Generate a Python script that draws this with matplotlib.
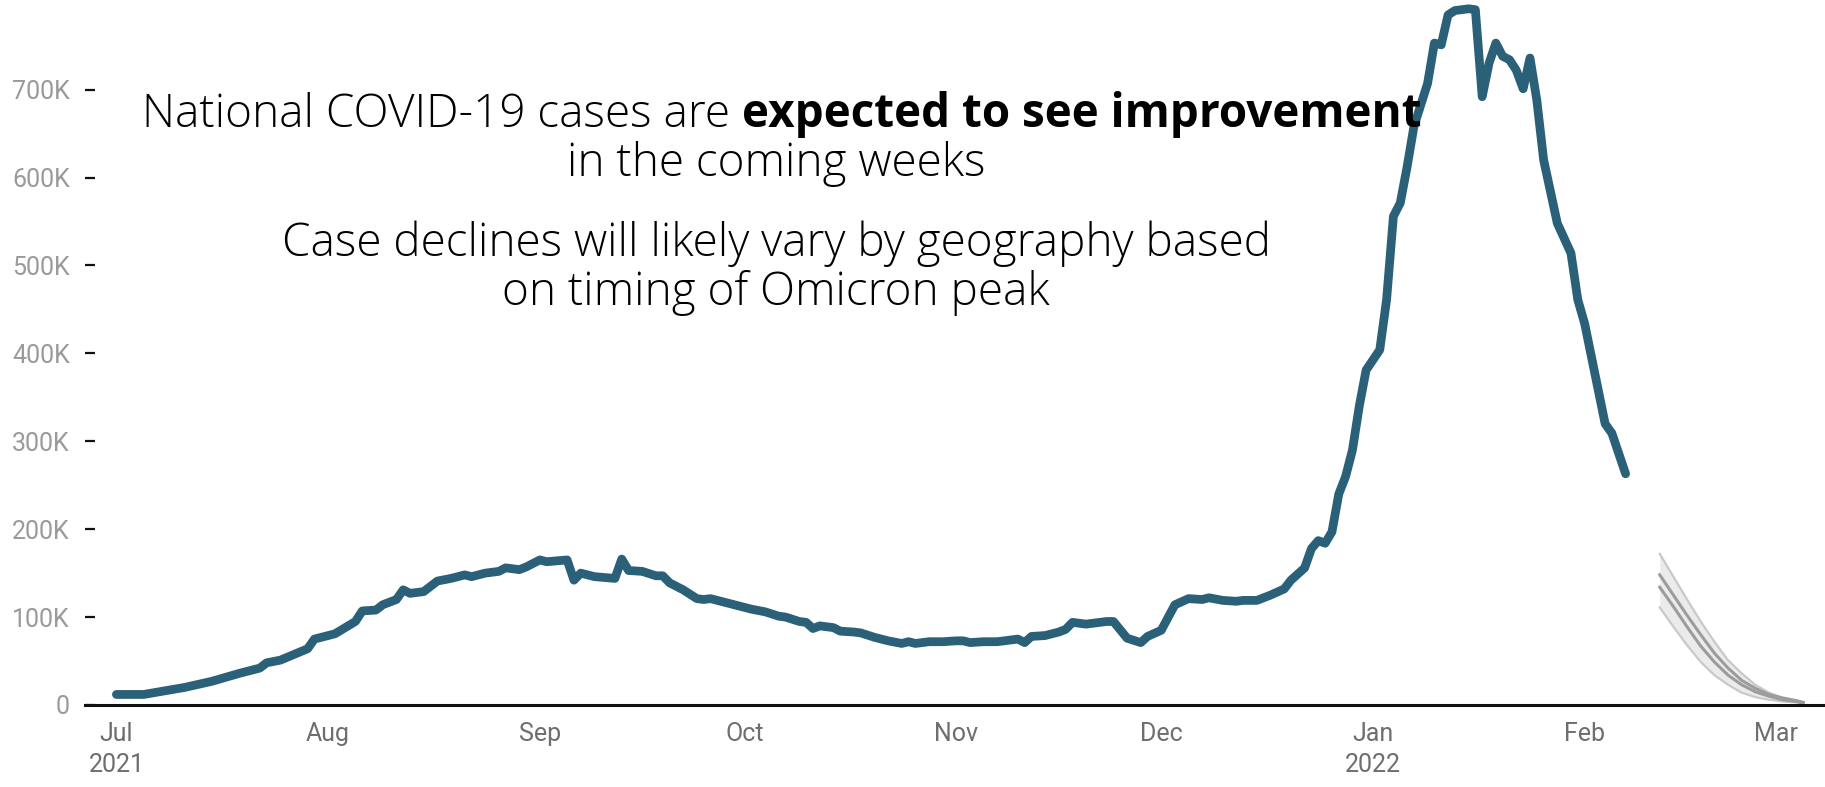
import matplotlib.pyplot as plt
import matplotlib.ticker as mticker
import pandas as pd

start = pd.Timestamp("2021-07-01")

# 7-day average national cases (thousands), keyed by days since Jul 1 2021
case_days = [0, 4, 7, 10, 14, 18, 21, 22, 24, 28, 29, 32, 35, 36, 38, 39, 41, 42, 43, 45,
             47, 49, 51, 52, 54, 56, 57, 59, 60, 62, 63, 66, 67, 68, 70, 73, 74, 75, 77, 79,
             80, 81, 83, 85, 86, 87, 89, 90, 93, 95, 97, 98, 100, 101, 102, 103, 105, 106, 108, 109,
             111, 113, 115, 116, 117, 119, 121, 123, 124, 125, 127, 129, 130, 132, 133, 134, 136, 138, 139, 140,
             142, 143, 145, 146, 148, 150, 151, 153, 155, 157, 159, 160, 162, 164, 165, 167, 169, 171, 172, 174,
             175, 176, 177, 178, 179, 180, 181, 182, 183, 185, 186, 187, 188, 189, 190, 192, 193, 194, 195, 196,
             198, 199, 200, 201, 202, 203, 204, 205, 206, 207, 208, 209, 211, 213, 214, 215, 217, 218, 219, 221]
case_values = [12, 12, 16, 20, 27, 36, 42, 48, 51, 64, 75, 81, 95, 107, 108, 114, 120, 131, 127, 129,
               141, 144, 148, 146, 150, 152, 156, 154, 157, 165, 163, 165, 142, 150, 146, 144, 166, 153, 152, 147,
               147, 139, 131, 121, 120, 121, 117, 115, 109, 106, 101, 100, 95, 94, 87, 90, 88, 84, 83, 82,
               77, 73, 70, 72, 70, 72, 72, 73, 73, 71, 72, 72, 73, 75, 71, 78, 79, 83, 86, 94,
               92, 93, 95, 95, 76, 71, 78, 85, 114, 121, 120, 122, 119, 118, 119, 119, 125, 132, 142, 156,
               178, 187, 184, 197, 240, 260, 290, 340, 381, 404, 461, 556, 571, 612, 658, 707, 753, 751, 785, 790,
               792, 791, 692, 730, 753, 738, 734, 722, 701, 736, 688, 620, 548, 514, 461, 434, 358, 320, 309, 263]

# ensemble forecast (thousands)
fc_days = [226, 228, 230, 232, 234, 236, 238, 240, 242, 244, 246, 247]
fc_upper = [172, 146, 120, 95, 72, 51, 36, 23, 14, 8, 5, 3]
fc_mid_hi = [148, 125, 102, 80, 59, 42, 28, 19, 12, 8, 5, 3]
fc_mid_lo = [134, 112, 89, 67, 49, 34, 23, 15, 10, 6, 4, 2]
fc_lower = [111, 89, 68, 49, 34, 23, 14, 9, 6, 4, 3, 2]

month_ticks = ["2021-07-01", "2021-08-01", "2021-09-01", "2021-10-01", "2021-11-01",
               "2021-12-01", "2022-01-01", "2022-02-01", "2022-03-01"]
month_labels = ["Jul\n2021", "Aug", "Sep", "Oct", "Nov", "Dec", "Jan\n2022", "Feb", "Mar"]

case_x = start + pd.to_timedelta(case_days, unit="D")
fc_x = start + pd.to_timedelta(fc_days, unit="D")
k = 1000

fig = plt.figure(figsize=(18.25, 7.87), dpi=100)
ax = fig.add_axes([85 / 1825, 82 / 787, 1 - 85 / 1825, 1 - 82 / 787])

ax.fill_between(fc_x, [v * k for v in fc_lower], [v * k for v in fc_upper],
                color="#ebebeb", lw=0, zorder=1)
for vals, col, lw in [(fc_upper, "#c9c9c9", 1.6), (fc_lower, "#c9c9c9", 1.6),
                      (fc_mid_hi, "#9c9c9c", 2.2), (fc_mid_lo, "#9c9c9c", 2.2)]:
    ax.plot(fc_x, [v * k for v in vals], color=col, lw=lw, zorder=2)

ax.plot(case_x, [v * k for v in case_values], color="#2b6079", lw=6.3,
        solid_joinstyle="round", solid_capstyle="round", zorder=3, clip_on=False)

ax.set_xlim(start - pd.Timedelta(days=4.6), start + pd.Timedelta(days=250.2))
ax.set_ylim(0, 802 * k)

ax.set_xticks(pd.to_datetime(month_ticks))
ax.set_xticklabels(month_labels)
ax.set_yticks([i * 100 * k for i in range(8)])
ax.yaxis.set_major_formatter(mticker.FuncFormatter(lambda v, p: "0" if v == 0 else f"{int(v / k)}K"))

for s in ["top", "right", "left"]:
    ax.spines[s].set_visible(False)
ax.spines["bottom"].set_linewidth(2.2)
ax.spines["bottom"].set_color("#111111")

ax.tick_params(axis="x", length=0, pad=12, labelsize=18, labelcolor="#6e6e6e")
ax.tick_params(axis="y", direction="in", length=7, width=1.6, color="#111111",
               pad=11, labelsize=18, labelcolor="#9a9a9a")
for lab in ax.get_xticklabels() + ax.get_yticklabels():
    lab.set_fontfamily("Roboto")
for lab in ax.get_xticklabels():
    lab.set_linespacing(1.4)

# headline text, with the bold phrase inline
fs = 33
fam = "Open Sans"
W, H = 1825, 787
t1 = fig.text(0, 1 - 127 / H, "National COVID-19 cases are ", fontsize=fs, family=fam,
              weight="light", color="black", ha="left", va="baseline", zorder=5)
t2 = fig.text(0, 1 - 127 / H, "expected to see improvement", fontsize=fs, family=fam,
              weight="bold", color="black", ha="left", va="baseline", zorder=5)
fig.canvas.draw()
r = fig.canvas.get_renderer()
w1 = t1.get_window_extent(r).width
w2 = t2.get_window_extent(r).width
left = 782 - (w1 + w2) / 2
t1.set_x(left / W)
t2.set_x((left + w1) / W)

for txt, y in [("in the coming weeks", 176),
               ("Case declines will likely vary by geography based", 256),
               ("on timing of Omicron peak", 305)]:
    fig.text(776 / W, 1 - y / H, txt, fontsize=fs, family=fam, weight="light",
             color="black", ha="center", va="baseline", zorder=5)

fig.savefig("out.png", dpi=100)
